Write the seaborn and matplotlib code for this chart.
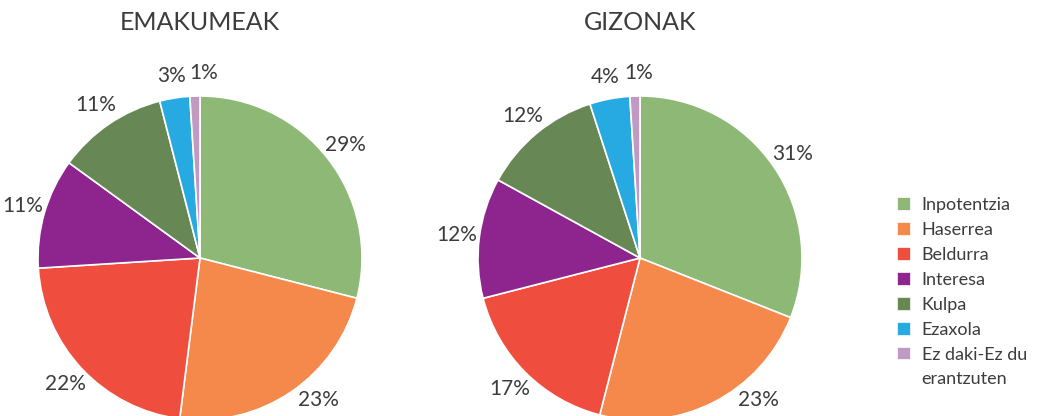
import numpy as np
import matplotlib
matplotlib.use("Agg")
import matplotlib.pyplot as plt
import seaborn as sns

# data
categories = ['Inpotentzia', 'Haserrea', 'Beldurra', 'Interesa', 'Kulpa', 'Ezaxola',
              'Ez daki-Ez du\nerantzuten']
women = [29, 23, 22, 11, 11, 3, 1]
men = [31, 23, 17, 12, 12, 4, 1]
titles = ['EMAKUMEAK', 'GIZONAK']
colors = ['#8eb876', '#f4894b', '#ef4e3e', '#8e258f', '#678755', '#27a9e1', '#c09ac3']

sns.set_theme(style="white")
plt.rcParams['font.family'] = ['Lato', 'DejaVu Sans']
text_col = '#3c3c3c'

W, H = 1051, 416
fig = plt.figure(figsize=(W / 100, H / 100), dpi=100)

r = 162
centers = [(200, 258), (640, 258)]
lab_dist = 1.14
y_floor = -142 / r  # keep labels inside the bottom edge, like the original

wedges_all = []
pie_labels = []
for (cx, cy), vals, title in zip(centers, [women, men], titles):
    ax = fig.add_axes([(cx - r) / W, (H - cy - r) / H, 2 * r / W, 2 * r / H])
    wedges, texts, pcts = ax.pie(vals, colors=colors, startangle=90, counterclock=False,
                                 autopct=lambda p: f'{p:.0f}%', pctdistance=lab_dist,
                                 wedgeprops=dict(edgecolor='white', linewidth=1.2),
                                 textprops=dict(fontsize=15, color=text_col))
    ax.set_xlim(-1, 1)
    ax.set_ylim(-1, 1)
    ax.axis('off')
    # slide labels that would fall off the bottom back up along the circle
    for t in pcts:
        x, y = t.get_position()
        if y < y_floor:
            t.set_position((np.sign(x) * np.sqrt(lab_dist ** 2 - y_floor ** 2), y_floor))
    pie_labels.append((ax, pcts))
    fig.text(cx / W, 1 - 22 / H, title, ha='center', va='center', fontsize=18,
             color=text_col)
    wedges_all = wedges

# push apart neighbouring small-slice labels that collide
fig.canvas.draw()
renderer = fig.canvas.get_renderer()
for ax, pcts in pie_labels:
    for a, b in zip(pcts[-2:-1], pcts[-1:]):
        ba = a.get_window_extent(renderer)
        bb = b.get_window_extent(renderer)
        overlap = ba.x1 + 4 - bb.x0
        if overlap > 0:
            x, y = b.get_position()
            b.set_position((x + overlap / r, y))

leg = fig.legend(wedges_all, categories, loc='upper left',
                 bbox_to_anchor=(890 / W, 1 - 190 / H), frameon=False,
                 fontsize=13, handlelength=0.75, handleheight=0.75,
                 handletextpad=0.6, labelspacing=0.5, borderaxespad=0)
for t in leg.get_texts():
    t.set_color(text_col)
# wrapped last entry: wider line gap, marker next to the first line
leg.get_texts()[-1].set_linespacing(1.6)
last = leg.legend_handles[-1]
last.set_y(last.get_y() + 10)

fig.savefig('out.png', dpi=100)
